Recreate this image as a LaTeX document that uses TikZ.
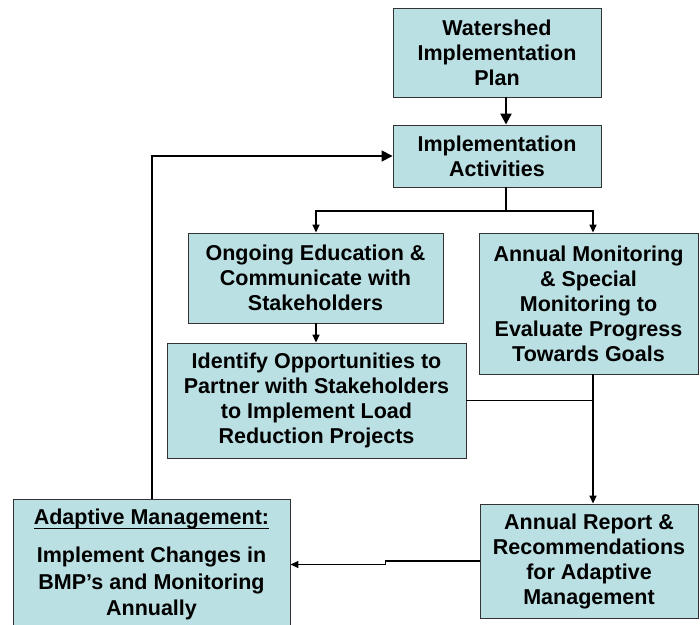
\documentclass[tikz,border=0pt]{standalone}
\usepackage{fontspec}
\setmainfont{Liberation Sans}
\usetikzlibrary{arrows.meta}
\definecolor{boxfill}{HTML}{BBE0E3}
\newcommand\myul[1]{\setbox0\hbox{#1}\rlap{\rule[-5pt]{\wd0}{1.8pt}}\box0}
\begin{document}
\begin{tikzpicture}[x=1pt,y=-1pt,
  box/.style={draw=black!80, line width=0.9pt, fill=boxfill, inner sep=0pt, align=center,
    font=\fontsize{21.5}{25}\selectfont\bfseries},
  conn/.style={line width=1.5pt},
  heavy/.style={line width=2.3pt},
  smallarrow/.style={-{Triangle[length=8pt,width=7pt]}},
  bigarrow/.style={-{Triangle[length=11pt,width=11pt]}}]
\useasboundingbox (0,0) rectangle (700,624);
\clip (0,0) rectangle (700,624);
\fill[white] (0,0) rectangle (700,624);

\node[box, minimum width=208pt, minimum height=89pt] (plan) at (497,52.5) {Watershed\\Implementation\\Plan};
\node[box, minimum width=208pt, minimum height=62pt] (act) at (497,156) {Implementation\\Activities};
\node[box, minimum width=255pt, minimum height=90pt] (edu) at (315.5,278) {Ongoing Education \&\\Communicate with\\Stakeholders};
\node[box, minimum width=219pt, minimum height=141pt] (mon) at (588.5,303.5) {Annual Monitoring\\\& Special\\Monitoring to\\Evaluate Progress\\Towards Goals};
\node[box, minimum width=299pt, minimum height=115pt] (opp) at (316.5,400.5) {Identify Opportunities to\\Partner with Stakeholders\\to Implement Load\\Reduction Projects};
\node[box, minimum width=218pt, minimum height=114pt] (rep) at (589,561) {Annual Report \&\\Recommendations\\for Adaptive\\Management};
\node[box, minimum width=277pt, minimum height=131pt, font=\fontsize{21.5}{26.5}\selectfont\bfseries] (adapt) at (151.5,564.5) {\myul{Adaptive Management:}\\[12pt]Implement Changes in\\BMP’s and Monitoring\\Annually};

\coordinate (split) at (506,211);
\draw[heavy, bigarrow] ([xshift=9pt]plan.south) -- ([xshift=9pt]act.north);
\draw[heavy] ([xshift=9pt]act.south) -- (split);
\draw[conn, smallarrow] (split) -| ([xshift=0.5pt]edu.north);
\draw[conn, smallarrow] (split) -| ([xshift=4.5pt]mon.north);
\draw[conn, smallarrow] ([xshift=0.5pt]edu.south) -- ([xshift=-0.5pt]opp.north);
\draw[conn, smallarrow] ([xshift=4.5pt]mon.south) -- ([xshift=4pt]rep.north);
\draw[conn] (opp.east) -- ([xshift=4.5pt]mon.south |- opp.east);
\draw[conn, smallarrow] (rep.west) -- ++(-94,0) |- (adapt.east);
\draw[line width=1.7pt, bigarrow] ([xshift=0.5pt]adapt.north) |- (act.west);
\end{tikzpicture}
\end{document}
